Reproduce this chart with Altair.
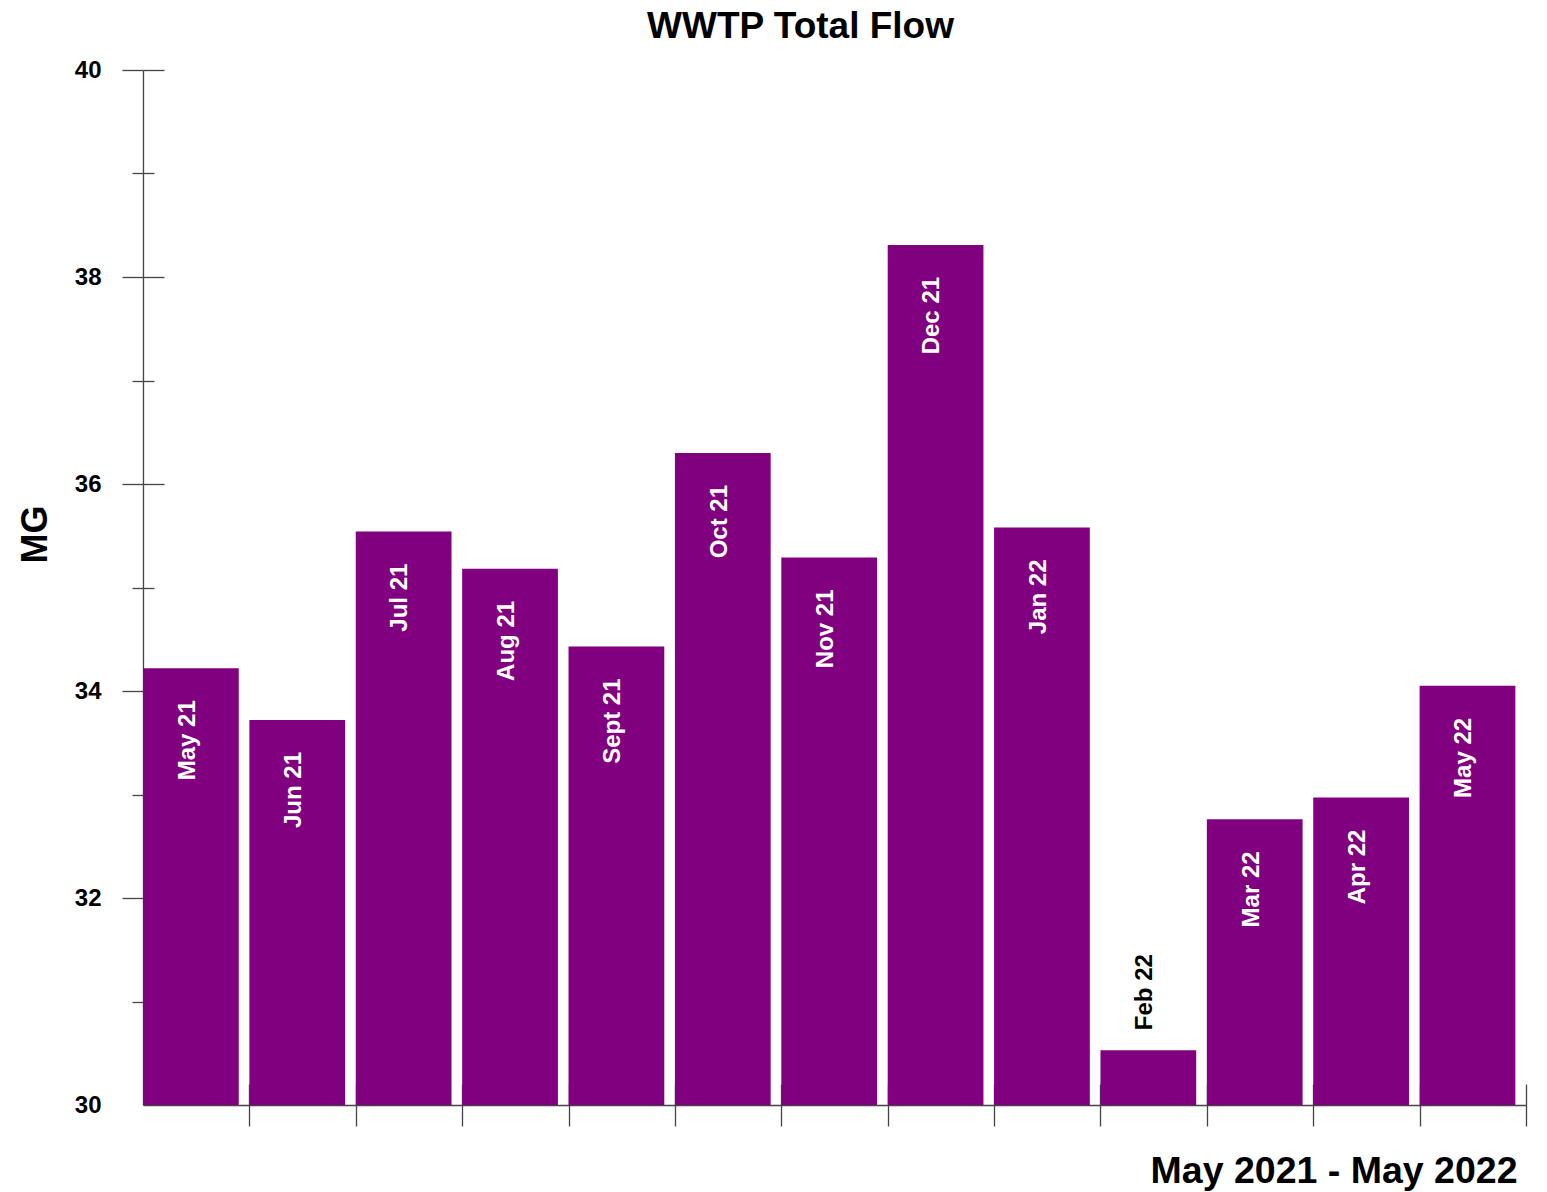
import altair as alt
import pandas as pd

# Monthly WWTP total flow, million gallons
months = ["May 21", "Jun 21", "Jul 21", "Aug 21", "Sept 21", "Oct 21", "Nov 21",
          "Dec 21", "Jan 22", "Feb 22", "Mar 22", "Apr 22", "May 22"]
flow_mg = [34.22, 33.72, 35.54, 35.18, 34.43, 36.30, 35.29,
           38.31, 35.58, 30.53, 32.76, 32.97, 34.05]

y_ticks = list(range(30, 41))          # 30..40, labels on even values
x_ticks = list(range(1, len(months) + 1))  # month boundaries

df = pd.DataFrame({"month": months, "flow": flow_mg, "slot": list(range(len(months)))})

W, H = 1383, 1035
FONT = "Liberation Sans"
AXIS_GRAY = "#444444"
PURPLE = "#800080"

x_scale = alt.Scale(domain=[0, len(months)], nice=False, zero=False)
y_scale = alt.Scale(domain=[30, 40], nice=False, zero=False)

y_tick_size = {"condition": {"test": "datum.value % 2 == 0", "value": 21}, "value": 11}
y_tick_opacity = {"condition": {"test": "datum.value == 30", "value": 0}, "value": 1}

base = alt.Chart(df).transform_calculate(
    slot_end="datum.slot + 0.9",
    mid="datum.slot + 0.42",
)

bars = base.mark_bar(color=PURPLE).encode(
    x=alt.X(
        "slot:Q", scale=x_scale,
        axis=alt.Axis(
            values=x_ticks, labels=False, tickSize=21, tickColor=AXIS_GRAY,
            tickWidth=1.3, domainColor=AXIS_GRAY, domainWidth=1.3, grid=False,
            title="May 2021 - May 2022", titleFont=FONT, titleFontSize=37.5,
            titleFontWeight="bold", titleColor="black", titleAlign="right",
            titleBaseline="alphabetic", titleX=1374, titleY=77,
        ),
    ),
    x2="slot_end:Q",
    y=alt.Y(
        "flow:Q", scale=y_scale,
        axis=alt.Axis(
            values=y_ticks, format="d",
            labelExpr="datum.value % 2 == 0 ? datum.label : ''",
            tickSize=y_tick_size, tickOpacity=y_tick_opacity,
            tickColor=AXIS_GRAY, tickWidth=1.3, domainColor=AXIS_GRAY,
            domainWidth=1.3, grid=False, labelFont=FONT, labelFontSize=24,
            labelFontWeight="bold", labelColor="black", labelPadding=21,
            title="MG", titleFont=FONT, titleFontSize=36, titleFontWeight="bold",
            titleColor="black", titleAngle=270, titleAlign="center",
            titleBaseline="alphabetic", titleX=-97, titleY=464,
        ),
    ),
    y2=alt.datum(30),
)

# Month names written inside the bars
inside = base.transform_filter("datum.flow > 31").mark_text(
    angle=270, align="right", baseline="middle", dx=-32,
    font=FONT, fontSize=24, fontWeight="bold", color="white",
).encode(
    x=alt.X("mid:Q", scale=x_scale),
    y=alt.Y("flow:Q", scale=y_scale),
    text="month:N",
)

# Short bars get their name above the bar
outside = base.transform_filter("datum.flow <= 31").mark_text(
    angle=270, align="left", baseline="middle", dx=20,
    font=FONT, fontSize=24, fontWeight="bold", color="black",
).encode(
    x=alt.X("mid:Q", scale=x_scale),
    y=alt.Y("flow:Q", scale=y_scale),
    text="month:N",
)

# Invisible layer carrying the inward half of the tick marks
inner_ticks = base.mark_point(opacity=0).encode(
    x=alt.X(
        "slot:Q", scale=x_scale,
        axis=alt.Axis(orient="top", offset=-H, values=x_ticks, labels=False,
                      domain=False, grid=False, tickSize=21, tickColor=AXIS_GRAY,
                      tickWidth=1.3, title=None),
    ),
    y=alt.Y(
        "flow:Q", scale=y_scale,
        axis=alt.Axis(orient="right", offset=-W, values=y_ticks, labels=False,
                      domain=False, grid=False, tickSize=y_tick_size,
                      tickOpacity=y_tick_opacity, tickColor=AXIS_GRAY,
                      tickWidth=1.3, title=None),
    ),
)

chart = alt.layer(
    alt.layer(bars, inside, outside),
    inner_ticks,
).resolve_scale(
    x="independent", y="independent"
).properties(
    width=W, height=H,
    autosize="none",
    padding={"left": 143, "top": 70, "right": 21, "bottom": 87},
    title=alt.TitleParams(
        "WWTP Total Flow", font=FONT, fontSize=37, fontWeight="bold",
        color="black", anchor="middle", frame="group", dx=-34,
        baseline="alphabetic", offset=-17,
    ),
).configure(
    background="white",
    view=alt.ViewConfig(strokeWidth=0, strokeOpacity=0),
)

chart.save("out.html", embed_options={"renderer": "svg", "actions": False})
